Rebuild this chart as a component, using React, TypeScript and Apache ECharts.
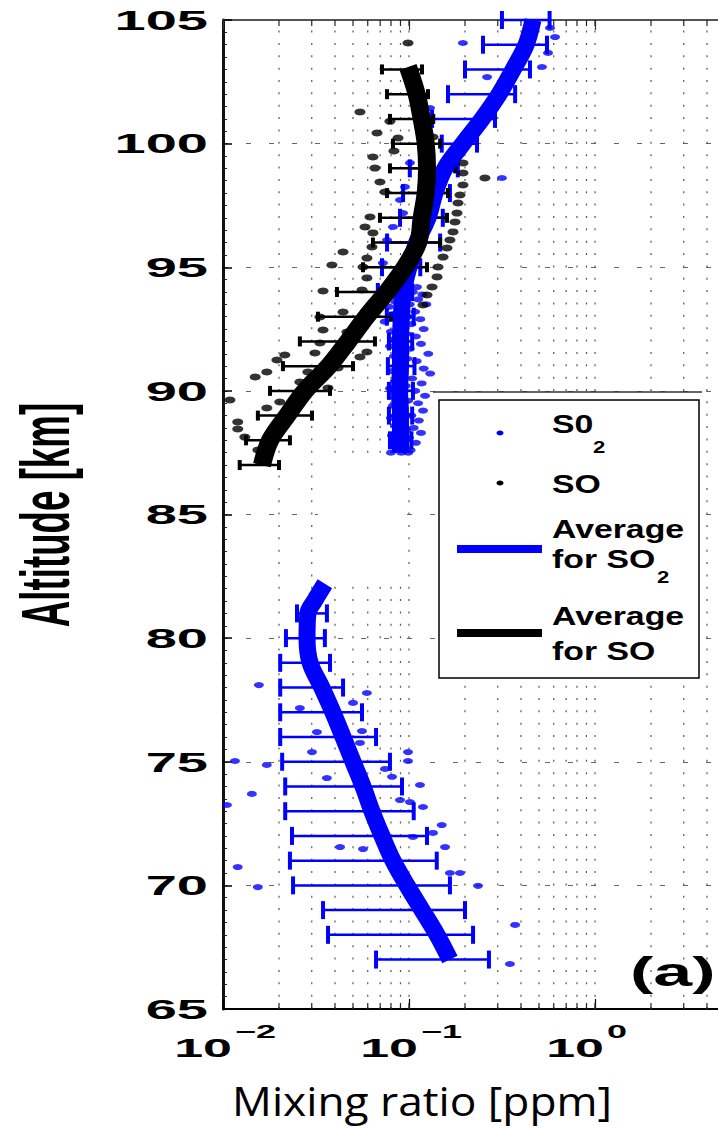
import React, { useEffect, useRef } from "react";
import * as echarts from "echarts";

// ---------- axis ticks ----------
const ALT_MIN = 65;
const ALT_MAX = 105;
const altTicks = [65, 70, 75, 80, 85, 90, 95, 100, 105];
const decadeExponents = [-2, -1, 0];
const minorMultipliers = [2, 3, 4, 5, 6, 7, 8, 9];

// ---------- data: [mixing ratio (ppm), altitude (km)] ----------
const so2UpperPoints = [
  [0.195, 104.07], [0.573, 104.68], [0.61, 104.31], [0.559, 103.67], [0.519, 103.1],
  [0.263, 102.69], [0.1297, 101.44], [0.316, 98.61], [0.1012, 99.22], [0.0951, 98.25],
  [0.0895, 97.72], [0.0929, 97.19], [0.082, 96.63], [0.0762, 96.1], [0.0724, 95.17],
  [0.1104, 94.2],
];

const so2BandPoints = [
  [0.083, 94.0], [0.105, 94.0], [0.118, 93.9], [0.079, 93.8], [0.097, 93.8], [0.112, 93.7],
  [0.085, 93.6], [0.101, 93.5], [0.124, 93.5], [0.078, 93.4], [0.094, 93.3], [0.108, 93.2],
  [0.082, 93.1], [0.099, 93.0], [0.115, 92.9], [0.087, 92.8], [0.074, 92.8], [0.103, 92.7],
  [0.091, 92.6], [0.12, 92.5], [0.08, 92.4], [0.097, 92.3], [0.109, 92.2], [0.084, 92.1],
  [0.093, 92.0], [0.116, 91.9], [0.079, 91.8], [0.101, 91.7], [0.089, 91.6], [0.127, 91.5],
  [0.083, 91.4], [0.098, 91.3], [0.11, 91.2], [0.086, 91.1], [0.094, 91.0], [0.12, 90.9],
  [0.081, 90.8], [0.13, 90.7], [0.091, 90.6], [0.104, 90.5], [0.084, 90.4], [0.117, 90.3],
  [0.096, 90.2], [0.079, 90.1], [0.108, 90.0], [0.09, 89.9], [0.122, 89.8], [0.085, 89.7],
  [0.099, 89.6], [0.112, 89.5], [0.082, 89.4], [0.094, 89.3], [0.119, 89.2], [0.087, 89.1],
  [0.103, 89.0], [0.08, 88.9], [0.113, 88.8], [0.092, 88.7], [0.084, 88.6], [0.106, 88.5],
  [0.097, 88.4], [0.116, 88.3], [0.081, 88.2], [0.1, 88.1], [0.089, 88.0], [0.109, 87.9],
  [0.083, 87.8], [0.095, 87.7], [0.102, 87.6], [0.08, 87.5], [0.091, 87.5], [0.099, 87.5],
];

const so2LowerPoints = [
  [0.0156, 78.1], [0.0594, 77.78], [0.05, 77.38], [0.0259, 77.17], [0.032, 76.2],
  [0.0559, 76.24], [0.0545, 75.76], [0.0301, 75.39], [0.0988, 75.39], [0.0988, 75.03],
  [0.0116, 75.03], [0.0172, 74.87], [0.0743, 74.71], [0.0362, 74.34], [0.0811, 74.39],
  [0.1146, 74.06], [0.0143, 73.7], [0.0895, 73.45], [0.1012, 73.37], [0.0105, 73.25],
  [0.1189, 73.17], [0.15, 72.44], [0.1346, 72.12], [0.1051, 71.96], [0.0426, 71.55],
  [0.0566, 71.47], [0.1563, 71.55], [0.012, 70.74], [0.166, 70.5], [0.188, 70.5],
  [0.0154, 69.93], [0.235, 69.98], [0.372, 68.4], [0.349, 66.82],
];

const soPoints = [
  [0.0988, 104.07], [0.0545, 101.28], [0.079, 100.9], [0.0673, 100.43], [0.0873, 100.23],
  [0.1346, 100.27], [0.083, 99.7], [0.064, 99.46], [0.0656, 99.01], [0.0698, 98.45],
  [0.0743, 98.04], [0.195, 99.22], [0.195, 98.81], [0.256, 98.61], [0.195, 98.33],
  [0.188, 97.92], [0.1834, 97.6], [0.1811, 97.19], [0.1767, 96.83], [0.1725, 96.43],
  [0.166, 96.1], [0.16, 95.78], [0.1524, 95.41], [0.1432, 95.01], [0.1415, 94.61],
  [0.133, 94.2], [0.125, 93.88], [0.0617, 97.03], [0.058, 96.63], [0.0632, 95.82],
  [0.0594, 95.37], [0.0566, 95.01], [0.0594, 94.57], [0.0559, 94.08], [0.064, 96.39],
  [0.0442, 95.62], [0.0385, 95.09], [0.0345, 94.04], [0.1, 95.6], [0.092, 94.9],
  [0.1189, 93.47], [0.0442, 93.19], [0.0332, 92.99], [0.0345, 92.46], [0.0464, 92.38],
  [0.0332, 91.94], [0.0594, 91.57], [0.0545, 91.37], [0.0215, 91.45], [0.0195, 91.25],
  [0.0312, 91.53], [0.0172, 90.76], [0.0149, 90.56], [0.0286, 90.76], [0.0415, 90.93],
  [0.0202, 89.55], [0.0172, 89.31], [0.012, 88.74], [0.012, 88.46], [0.0109, 89.63],
  [0.0131, 88.13], [0.0154, 87.61], [0.0259, 90.36], [0.0367, 90.12],
];

const so2AvgUpper = [
  [0.464, 105.0], [0.426, 104.0], [0.363, 103.0], [0.305, 102.0], [0.247, 101.0],
  [0.195, 100.0], [0.156, 99.0], [0.138, 98.0], [0.1265, 97.0], [0.11, 96.0],
  [0.1, 95.0], [0.093, 94.0], [0.091, 93.0], [0.09, 92.0], [0.09, 91.0], [0.089, 90.0],
  [0.09, 89.0], [0.09, 88.0], [0.09, 87.5],
];

const so2AvgLower = [
  [0.0353, 82.2], [0.031, 81.5], [0.0286, 81.0], [0.0283, 80.0], [0.0294, 79.0],
  [0.034, 78.0], [0.039, 77.0], [0.0442, 76.0], [0.05, 75.0], [0.0566, 74.0],
  [0.0632, 73.0], [0.0716, 72.0], [0.082, 71.0], [0.0975, 70.0], [0.1175, 69.0],
  [0.1415, 68.0], [0.166, 67.0],
];

const soAvg = [
  [0.0988, 103.1], [0.11, 102.0], [0.117, 101.0], [0.123, 100.0], [0.125, 99.0],
  [0.123, 98.0], [0.117, 97.0], [0.112, 96.0], [0.095, 95.0], [0.076, 94.0],
  [0.059, 93.0], [0.047, 92.0], [0.037, 91.0], [0.0276, 90.0], [0.0221, 89.0],
  [0.0179, 88.0], [0.0162, 87.0],
];

// error bars: [altitude, low, high]
const so2ErrUpper = [
  [105, 0.316, 0.57], [104, 0.25, 0.552], [103, 0.2, 0.447], [102, 0.162, 0.372],
  [101, 0.133, 0.29], [100, 0.15, 0.232], [99, 0.101, 0.183], [98, 0.0929, 0.166],
  [97, 0.0895, 0.152], [96, 0.0762, 0.147], [95, 0.0716, 0.115], [94, 0.068, 0.104],
  [93, 0.076, 0.106], [92, 0.078, 0.104], [91, 0.077, 0.107], [90, 0.078, 0.105],
  [89, 0.078, 0.104], [88, 0.079, 0.103],
];

const so2ErrLower = [
  [81, 0.025, 0.0362], [80, 0.0218, 0.0353], [79, 0.0203, 0.0376], [78, 0.0203, 0.0442],
  [77, 0.0203, 0.0559], [76, 0.0203, 0.0665], [75, 0.0208, 0.079], [74, 0.0216, 0.0917],
  [73, 0.0216, 0.106], [72, 0.0235, 0.125], [71, 0.0229, 0.141], [70, 0.0238, 0.166],
  [69, 0.0345, 0.2], [68, 0.0367, 0.221], [67, 0.0665, 0.269],
];

const soErr = [
  [103, 0.0716, 0.1175], [102, 0.0762, 0.1265], [101, 0.079, 0.135], [100, 0.082, 0.147],
  [99, 0.079, 0.177], [98, 0.0762, 0.162], [97, 0.0698, 0.16], [96, 0.064, 0.147],
  [95, 0.0566, 0.125], [94, 0.041, 0.1], [93, 0.0324, 0.08], [92, 0.0259, 0.0656],
  [91, 0.021, 0.05], [90, 0.0179, 0.0376], [89, 0.0154, 0.0301], [88, 0.0133, 0.0229],
  [87, 0.0123, 0.02],
];

const BLUE = "#0000ff";
const BOLD_FONT = "'Liberation Sans', Arial, Helvetica, sans-serif";

function errorBarRender(color: string, capHalf: number, capWidth: number, barWidth: number) {
  return (params: any, api: any) => {
    const alt = api.value(0);
    const lo = api.value(1);
    const hi = api.value(2);
    const a = api.coord([lo, alt]);
    const b = api.coord([hi, alt]);
    return {
      type: "group",
      children: [
        { type: "line", shape: { x1: a[0], y1: a[1], x2: b[0], y2: b[1] }, style: { stroke: color, lineWidth: barWidth } },
        { type: "line", shape: { x1: a[0], y1: a[1] - capHalf, x2: a[0], y2: a[1] + capHalf }, style: { stroke: color, lineWidth: capWidth } },
        { type: "line", shape: { x1: b[0], y1: b[1] - capHalf, x2: b[0], y2: b[1] + capHalf }, style: { stroke: color, lineWidth: capWidth } },
      ],
    };
  };
}

export default function App() {
  const ref = useRef<HTMLDivElement>(null);

  useEffect(() => {
    if (!ref.current) return;
    const chart = echarts.init(ref.current, null, { renderer: "svg" });

    const gridValues: number[] = [];
    decadeExponents.forEach((e) => {
      const d = Math.pow(10, e);
      minorMultipliers.forEach((m) => gridValues.push(+(d * m).toPrecision(6)));
      if (e > -2) gridValues.push(d);
    });

    const legendText = (text: string, x: number, y: number, size = 26) => ({
      type: "text",
      z: 12,
      x,
      y,
      scaleX: 1.3,
      style: {
        text,
        fontSize: size,
        fontWeight: "bold",
        fontFamily: BOLD_FONT,
        fill: "#000",
        align: "left",
        textAlign: "left",
        verticalAlign: "middle",
        textVerticalAlign: "middle",
      },
    });

    const option: any = {
      animation: false,
      backgroundColor: "#ffffff",
      grid: {
        left: 223,
        top: 20,
        width: 558,
        height: 989,
        containLabel: false,
        outerBoundsMode: "none",
      },
      xAxis: [
        {
          type: "log",
          logBase: 10,
          min: 0.01,
          max: 10,
          axisLine: { show: true, onZero: false, lineStyle: { color: "#000", width: 2 } },
          axisTick: { show: true, inside: true, length: 10, lineStyle: { color: "#000", width: 1.2 } },
          axisLabel: { show: false },
          splitLine: { show: false },
        },
        {
          type: "log",
          logBase: 10,
          min: 0.01,
          max: 10,
          position: "top",
          axisLine: { show: true, onZero: false, lineStyle: { color: "#555", width: 2 } },
          axisTick: { show: true, inside: true, length: 10, lineStyle: { color: "#333", width: 1.2 } },
          axisLabel: { show: false },
          splitLine: { show: false },
        },
      ],
      yAxis: {
        type: "value",
        min: ALT_MIN,
        max: ALT_MAX,
        interval: 5,
        axisLine: { show: true, onZero: false, lineStyle: { color: "#111", width: 3 } },
        axisTick: { show: true, inside: true, length: 9, lineStyle: { color: "#000", width: 1.5 } },
        minorTick: { show: true, splitNumber: 10, length: 4, lineStyle: { color: "#222", width: 1 } },
        axisLabel: { show: false },
        splitLine: { show: true, lineStyle: { color: "#666", width: 1.2, type: [5, 18] } },
      },
      graphic: [
        // gap between the upper and lower retrievals
        { type: "rect", z: 2, shape: { x: 318, y: 455, width: 89, height: 129 }, style: { fill: "#fff" } },
        // axis strip above the legend
        { type: "line", z: 10, shape: { x1: 433, y1: 392, x2: 702, y2: 392 }, style: { stroke: "#333", lineWidth: 1.5 } },
        // legend box
        { type: "rect", z: 10, shape: { x: 439, y: 400, width: 260, height: 278 }, style: { fill: "#fff", stroke: "#000", lineWidth: 1.5 } },
        { type: "ellipse", z: 11, shape: { cx: 500, cy: 433, rx: 3.5, ry: 2.5 }, style: { fill: BLUE } },
        { type: "ellipse", z: 11, shape: { cx: 500, cy: 483, rx: 3.5, ry: 2.5 }, style: { fill: "#000" } },
        { type: "line", z: 11, shape: { x1: 457, y1: 549, x2: 542, y2: 549 }, style: { stroke: BLUE, lineWidth: 8 } },
        { type: "line", z: 11, shape: { x1: 457, y1: 633, x2: 542, y2: 633 }, style: { stroke: "#000", lineWidth: 8 } },
        legendText("S0", 552, 424),
        legendText("2", 593, 447, 17),
        legendText("SO", 552, 484),
        legendText("Average", 552, 529),
        legendText("for SO", 552, 559),
        legendText("2", 657, 577, 17),
        legendText("Average", 552, 616),
        legendText("for SO", 552, 651),
        // panel tag
        {
          type: "text",
          z: 12,
          x: 630,
          y: 972,
          scaleX: 1.75,
          style: {
            text: "(a)",
            fontSize: 40,
            fontWeight: "bold",
            fontFamily: BOLD_FONT,
            fill: "#000",
            align: "left",
            textAlign: "left",
            verticalAlign: "middle",
            textVerticalAlign: "middle",
          },
        },
        // y axis name
        {
          type: "text",
          z: 12,
          x: 46,
          y: 515,
          rotation: Math.PI / 2,
          scaleX: 0.54,
          style: {
            text: "Altitude [km]",
            fontSize: 68,
            fontWeight: "bold",
            fontFamily: BOLD_FONT,
            fill: "#000",
            align: "center",
            textAlign: "center",
            verticalAlign: "middle",
            textVerticalAlign: "middle",
          },
        },
        // x axis name
        {
          type: "text",
          z: 12,
          x: 422,
          y: 1100,
          scaleX: 1.08,
          style: {
            text: "Mixing ratio [ppm]",
            fontSize: 41,
            fontFamily: "'Open Sans', 'Noto Sans', sans-serif",
            fill: "#000",
            align: "center",
            textAlign: "center",
            verticalAlign: "middle",
            textVerticalAlign: "middle",
          },
        },
      ],
      series: [
        // minor / decade grid lines and their ticks
        {
          type: "custom",
          z: 1,
          silent: true,
          data: gridValues.map((v) => [v, ALT_MIN]),
          encode: { x: 0, y: 1 },
          renderItem: (params: any, api: any) => {
            const v = api.value(0);
            const b = api.coord([v, ALT_MIN]);
            const t = api.coord([v, ALT_MAX]);
            return {
              type: "group",
              children: [
                { type: "line", shape: { x1: b[0], y1: b[1], x2: t[0], y2: t[1] }, style: { stroke: "#555", lineWidth: 1.2, lineDash: [2, 10.36] } },
                { type: "line", shape: { x1: b[0], y1: b[1], x2: b[0], y2: b[1] - 6 }, style: { stroke: "#222", lineWidth: 1.2 } },
                { type: "line", shape: { x1: t[0], y1: t[1], x2: t[0], y2: t[1] + 6 }, style: { stroke: "#222", lineWidth: 1.2 } },
              ],
            };
          },
        },
        {
          name: "S02",
          type: "scatter",
          z: 3,
          symbol: "circle",
          symbolSize: [10, 6],
          itemStyle: { color: BLUE },
          data: [...so2UpperPoints, ...so2BandPoints, ...so2LowerPoints],
        },
        {
          name: "SO",
          type: "scatter",
          z: 3,
          symbol: "circle",
          symbolSize: [11, 7],
          itemStyle: { color: "#000" },
          data: soPoints,
        },
        {
          type: "custom",
          z: 3,
          silent: true,
          data: [...so2ErrUpper, ...so2ErrLower],
          encode: { x: [1, 2], y: 0 },
          renderItem: errorBarRender(BLUE, 9, 4, 2.5),
        },
        {
          type: "custom",
          z: 3,
          silent: true,
          data: soErr,
          encode: { x: [1, 2], y: 0 },
          renderItem: errorBarRender("#000", 5, 4, 2.5),
        },
        {
          name: "Average for SO2",
          type: "line",
          z: 4,
          showSymbol: false,
          symbol: "none",
          smooth: 0.35,
          lineStyle: { color: BLUE, width: 17 },
          data: so2AvgUpper,
        },
        {
          name: "Average for SO2 (lower)",
          type: "line",
          z: 4,
          showSymbol: false,
          symbol: "none",
          smooth: 0.35,
          lineStyle: { color: BLUE, width: 17 },
          data: so2AvgLower,
        },
        {
          name: "Average for SO",
          type: "line",
          z: 4,
          showSymbol: false,
          symbol: "none",
          smooth: 0.35,
          lineStyle: { color: "#000", width: 18 },
          data: soAvg,
        },
        // y tick labels
        {
          type: "custom",
          z: 5,
          silent: true,
          data: altTicks.map((a) => [0.01, a]),
          encode: { x: 0, y: 1 },
          renderItem: (params: any, api: any) => {
            const p = api.coord([api.value(0), api.value(1)]);
            return {
              type: "text",
              x: p[0] - 15,
              y: p[1],
              scaleX: 2,
              style: {
                text: String(api.value(1)),
                fontSize: 28,
                fontWeight: "bold",
                fontFamily: BOLD_FONT,
                fill: "#000",
                align: "right",
                verticalAlign: "middle",
              },
            };
          },
        },
        // x tick labels (10^n)
        {
          type: "custom",
          z: 5,
          silent: true,
          data: decadeExponents.map((e) => [Math.pow(10, e), ALT_MIN]),
          encode: { x: 0, y: 1 },
          renderItem: (params: any, api: any) => {
            const v = api.value(0);
            const p = api.coord([v, api.value(1)]);
            const e = Math.round(Math.log10(v));
            const expText = e < 0 ? "\u2212" + String(-e) : String(e);
            return {
              type: "group",
              children: [
                {
                  type: "text",
                  x: p[0] + 9,
                  y: p[1] + 39,
                  scaleX: 2,
                  style: { text: "10", fontSize: 26, fontWeight: "bold", fontFamily: BOLD_FONT, fill: "#000", align: "right", verticalAlign: "middle" },
                },
                {
                  type: "text",
                  x: p[0] + 12,
                  y: p[1] + 23,
                  scaleX: 2,
                  style: { text: expText, fontSize: 18, fontWeight: "bold", fontFamily: BOLD_FONT, fill: "#000", align: "left", verticalAlign: "middle" },
                },
              ],
            };
          },
        },
      ],
    };

    chart.setOption(option);
    return () => chart.dispose();
  }, []);

  return (
    <div
      ref={ref}
      style={{ position: "absolute", left: 0, top: 0, width: 718, height: 1128, background: "#fff" }}
    />
  );
}
